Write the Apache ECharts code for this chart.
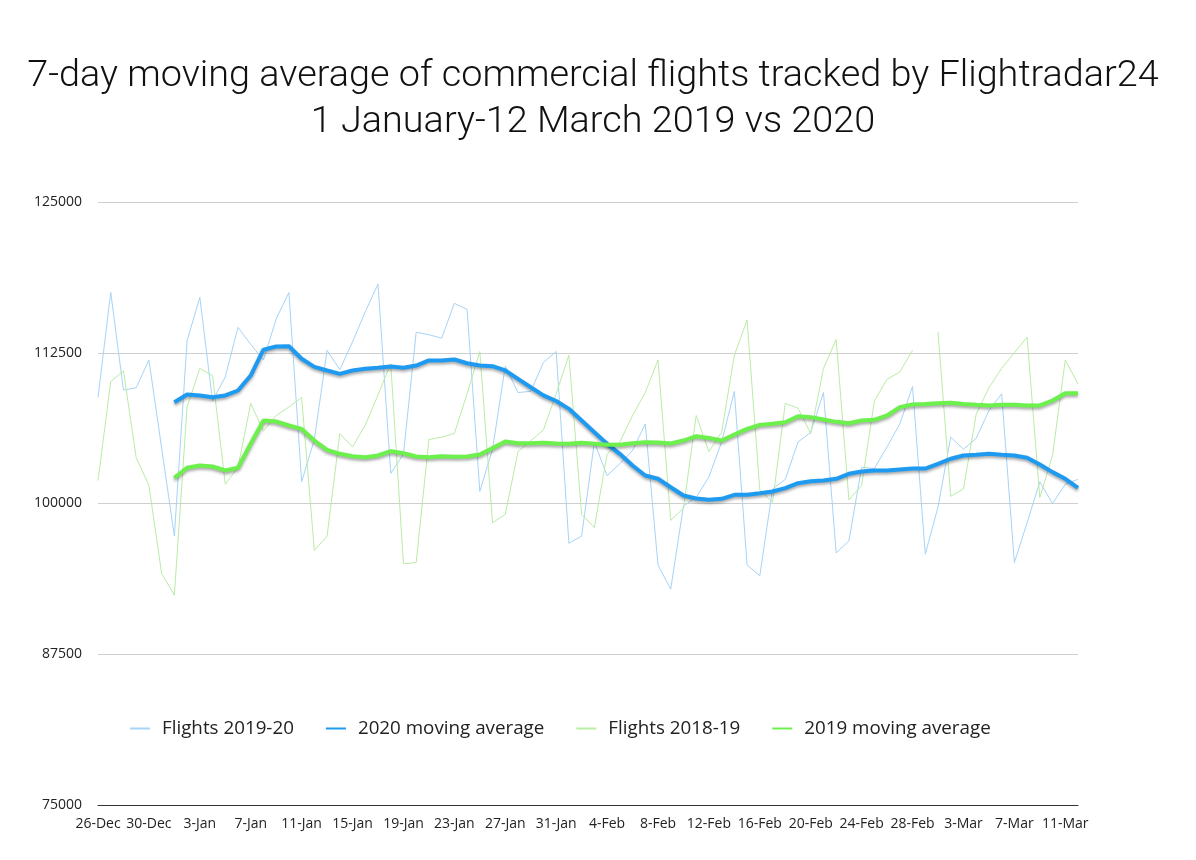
<!DOCTYPE html>
<html>
<head>
<meta charset="utf-8">
<script src="https://cdn.jsdelivr.net/npm/echarts@6/dist/echarts.min.js"></script>
<style>
html,body{margin:0;padding:0;background:#fff;}
#chart{width:1196px;height:860px;}
</style>
</head>
<body>
<div id="chart"></div>
<script>
const categories = [
 '26-Dec','27-Dec','28-Dec','29-Dec','30-Dec','31-Dec',
 '1-Jan','2-Jan','3-Jan','4-Jan','5-Jan','6-Jan','7-Jan','8-Jan','9-Jan','10-Jan',
 '11-Jan','12-Jan','13-Jan','14-Jan','15-Jan','16-Jan','17-Jan','18-Jan','19-Jan','20-Jan',
 '21-Jan','22-Jan','23-Jan','24-Jan','25-Jan','26-Jan','27-Jan','28-Jan','29-Jan','30-Jan','31-Jan',
 '1-Feb','2-Feb','3-Feb','4-Feb','5-Feb','6-Feb','7-Feb','8-Feb','9-Feb','10-Feb',
 '11-Feb','12-Feb','13-Feb','14-Feb','15-Feb','16-Feb','17-Feb','18-Feb','19-Feb','20-Feb',
 '21-Feb','22-Feb','23-Feb','24-Feb','25-Feb','26-Feb','27-Feb','28-Feb','29-Feb',
 '1-Mar','2-Mar','3-Mar','4-Mar','5-Mar','6-Mar','7-Mar','8-Mar','9-Mar','10-Mar','11-Mar','12-Mar'
];

const flights2020 = [
 108800,117500,109400,109600,111900,104600,
 97300,113500,117100,108500,110500,114600,113200,111900,115300,117500,
 101800,105300,112700,111100,113400,115900,118200,102500,104100,114200,
 114000,113700,116600,116100,101000,104500,111400,109200,109300,111700,112600,
 96700,97300,105100,102300,103300,104400,106600,94900,92900,99800,
 100500,102200,105100,109300,94900,94000,101200,102000,105100,105900,
 109200,95900,96900,103000,102900,104700,106600,109700,95800,
 99700,105500,104500,105400,107700,109100,95100,98400,101800,100000,101600,102000
];

const avg2020 = [
 null,null,null,null,null,null,
 108400,109040,108960,108810,108960,109370,110610,112750,113020,113040,
 112000,111330,111030,110750,111030,111170,111250,111360,111250,111440,
 111860,111860,111940,111630,111440,111390,111030,110340,109640,108960,108500,
 107850,106880,105910,104950,104120,103150,102320,102050,101350,100660,
 100420,100310,100390,100720,100720,100850,101000,101270,101680,101850,
 101910,102050,102460,102650,102740,102740,102820,102900,102900,
 103290,103710,103980,104040,104120,104040,103980,103790,103230,102600,102050,101300
];

const flights2019 = [
 101900,110100,111000,103800,101500,94200,
 92400,108000,111200,110600,101600,103000,108300,106000,107300,108000,
 108800,96100,97300,105800,104700,106500,109000,111600,95000,95100,
 105300,105500,105800,109100,112600,98400,99100,104300,105200,106100,109100,
 112300,99100,98000,104100,105100,107300,109200,111900,98600,99600,
 107300,104300,105900,112300,115200,101100,100100,108300,107900,105800,
 111200,113600,100300,101500,108500,110300,110900,112700,null,
 114200,100600,101200,107400,109600,111200,112500,113800,100500,104000,111900,109900
];

const avg2019 = [
 null,null,null,null,null,null,
 102130,102960,103150,103070,102740,102960,104950,106880,106800,106470,
 106190,105220,104450,104120,103920,103840,103980,104340,104170,103900,
 103840,103920,103870,103900,104060,104590,105140,105000,105000,105030,104980,
 104950,105030,104950,104870,104870,105000,105080,105060,104980,105220,
 105580,105440,105220,105720,106190,106520,106610,106740,107240,107160,
 106970,106770,106660,106880,106940,107300,107990,108210,108260,
 108320,108350,108260,108180,108130,108180,108180,108130,108130,108540,109150,109150
];

const seriesNames = ['Flights 2019-20','2020 moving average','Flights 2018-19','2019 moving average'];
const yTicks = [75000, 87500, 100000, 112500, 125000];

const FONT = '"Open Sans", "Noto Sans", sans-serif';
const chart = echarts.init(document.getElementById('chart'));

const thickShadow = {shadowColor:'rgba(0,0,0,0.35)', shadowBlur:3, shadowOffsetY:2};

chart.setOption({
  animation: false,
  backgroundColor: '#ffffff',
  title: {
    text: '7-day moving average of commercial flights tracked by Flightradar24\n1 January-12 March 2019 vs 2020',
    left: 588,
    top: 49,
    textAlign: 'center',
    textStyle: {
      fontFamily: 'Roboto, sans-serif',
      fontWeight: 300,
      fontSize: 37.8,
      lineHeight: 46,
      color: '#111111'
    }
  },
  legend: {
    left: 125,
    top: 714,
    icon: 'rect',
    itemWidth: 20,
    itemHeight: 2,
    itemGap: 32,
    textStyle: {fontFamily: FONT, fontSize: 18.8, color: '#222222', padding: [0,0,0,7]},
    data: seriesNames
  },
  grid: {left: 98, right: 118, top: 202, bottom: 55, containLabel: false},
  xAxis: {
    type: 'category',
    data: categories,
    boundaryGap: false,
    axisLine: {show: true, lineStyle: {color: '#333333', width: 1}},
    axisTick: {show: false},
    axisLabel: {
      interval: 3,
      margin: 12,
      fontFamily: FONT,
      fontSize: 14,
      color: '#222222'
    },
    splitLine: {show: false}
  },
  yAxis: {
    type: 'value',
    min: yTicks[0],
    max: yTicks[yTicks.length - 1],
    interval: 12500,
    axisLine: {show: false},
    axisTick: {show: false},
    axisLabel: {margin: 16, fontFamily: FONT, fontSize: 14, color: '#222222',
      formatter: function (v) { return String(v); }},
    splitLine: {lineStyle: {color: '#cfcfcf', width: 1}}
  },
  series: [
    {
      name: seriesNames[0], type: 'line', data: flights2020, symbol: 'none', z: 2,
      connectNulls: false,
      lineStyle: {color: '#a6d4f7', width: 1},
      itemStyle: {color: '#a6d4f7'}
    },
    {
      name: seriesNames[1], type: 'line', data: avg2020, symbol: 'none', z: 4,
      lineStyle: Object.assign({color: '#1e9bf0', width: 4}, thickShadow),
      itemStyle: {color: '#1e9bf0'}
    },
    {
      name: seriesNames[2], type: 'line', data: flights2019, symbol: 'none', z: 2,
      connectNulls: false,
      lineStyle: {color: '#b9eca5', width: 1},
      itemStyle: {color: '#b9eca5'}
    },
    {
      name: seriesNames[3], type: 'line', data: avg2019, symbol: 'none', z: 4,
      lineStyle: Object.assign({color: '#6cf04c', width: 4}, thickShadow),
      itemStyle: {color: '#6cf04c'}
    }
  ]
});
</script>
</body>
</html>
